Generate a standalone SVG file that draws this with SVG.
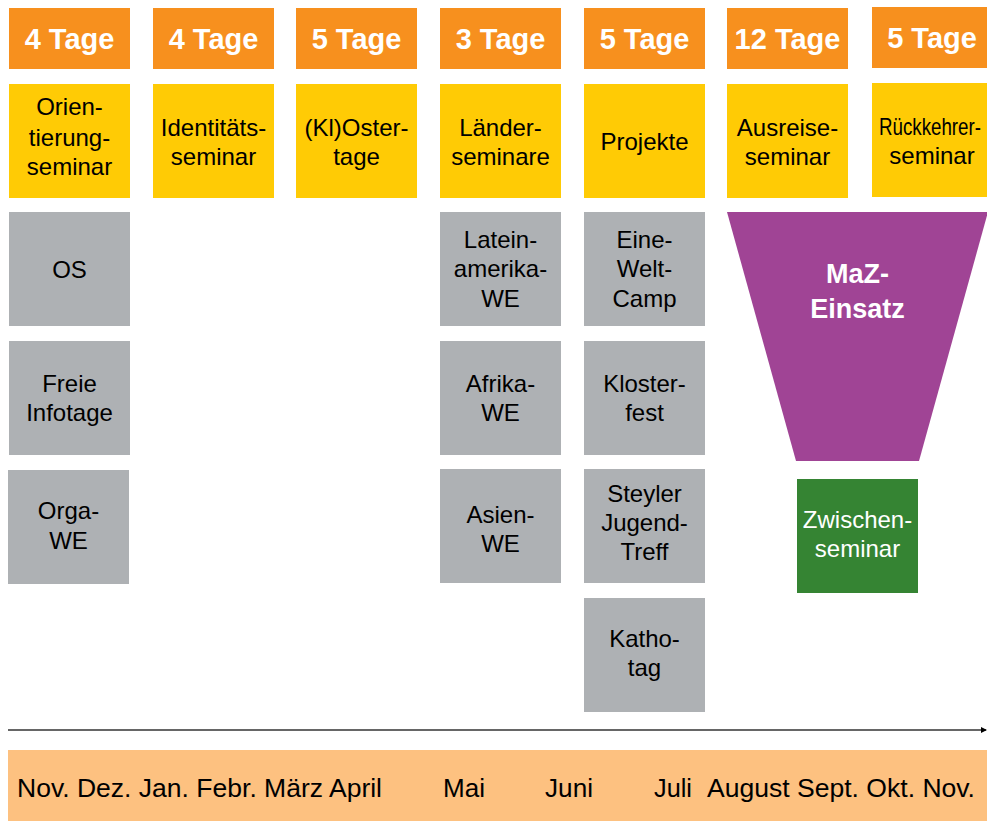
<svg xmlns="http://www.w3.org/2000/svg" width="987" height="821" viewBox="0 0 987 821">
<defs>
<style>
.hd{fill:#F7901E}
.ye{fill:#FFCB05}
.gr{fill:#AEB1B4}
.ht{font-family:"Liberation Sans",Arial,sans-serif;font-weight:bold;font-size:29px;fill:#fff;text-anchor:middle}
.t{font-family:"Liberation Sans",Arial,sans-serif;font-size:24px;fill:#000;text-anchor:middle}
.w{fill:#fff}
.m{font-family:"Liberation Sans",Arial,sans-serif;font-size:25px;fill:#000}
</style>
<marker id="arr" viewBox="0 0 6 6" refX="5" refY="3" markerWidth="6" markerHeight="6" markerUnits="userSpaceOnUse" orient="auto">
<path d="M0,0 L6,3 L0,6 z" fill="#000"/>
</marker>
</defs>
<rect width="987" height="821" fill="#fff"/>

<g id="h1"><rect class="hd" x="9" y="8" width="121" height="61"/><text class="ht" x="69.5" y="49">4 Tage</text></g>
<g id="h2"><rect class="hd" x="153" y="8" width="121" height="61"/><text class="ht" x="213.5" y="49">4 Tage</text></g>
<g id="h3"><rect class="hd" x="296" y="8" width="121" height="61"/><text class="ht" x="356.5" y="49">5 Tage</text></g>
<g id="h4"><rect class="hd" x="440" y="8" width="121" height="61"/><text class="ht" x="500.5" y="49">3 Tage</text></g>
<g id="h5"><rect class="hd" x="584" y="8" width="121" height="61"/><text class="ht" x="644.5" y="49">5 Tage</text></g>
<g id="h6"><rect class="hd" x="727" y="8" width="121" height="61"/><text class="ht" x="787.5" y="49">12 Tage</text></g>
<g id="h7"><rect class="hd" x="872" y="7" width="120" height="61"/><text class="ht" x="932" y="48">5 Tage</text></g>

<g id="y1"><rect class="ye" x="9" y="84" width="121" height="114"/><text class="t" x="69.5" y="115">Orien-</text><text class="t" x="69.5" y="146">tierung-</text><text class="t" x="69.5" y="175">seminar</text></g>
<g id="y2"><rect class="ye" x="153" y="84" width="121" height="114"/><text class="t" x="213.5" y="136">Identitäts-</text><text class="t" x="213.5" y="165">seminar</text></g>
<g id="y3"><rect class="ye" x="296" y="84" width="121" height="114"/><text class="t" x="356.5" y="136">(Kl)Oster-</text><text class="t" x="356.5" y="165">tage</text></g>
<g id="y4"><rect class="ye" x="440" y="84" width="121" height="114"/><text class="t" x="500.5" y="136">Länder-</text><text class="t" x="500.5" y="165">seminare</text></g>
<g id="y5"><rect class="ye" x="584" y="84" width="121" height="114"/><text class="t" x="644.5" y="150">Projekte</text></g>
<g id="y6"><rect class="ye" x="727" y="84" width="121" height="114"/><text class="t" x="787.5" y="136">Ausreise-</text><text class="t" x="787.5" y="165">seminar</text></g>
<g id="y7"><rect class="ye" x="872" y="83" width="120" height="114"/><text class="t" x="930" y="135" textLength="102" lengthAdjust="spacingAndGlyphs">Rückkehrer-</text><text class="t" x="932" y="164">seminar</text></g>

<g id="g_os"><rect class="gr" x="9" y="212" width="121" height="114"/><text class="t" x="69.5" y="278">OS</text></g>
<g id="g_freie"><rect class="gr" x="9" y="341" width="121" height="114"/><text class="t" x="69.5" y="392">Freie</text><text class="t" x="69.5" y="421">Infotage</text></g>
<g id="g_orga"><rect class="gr" x="8" y="470" width="121" height="114"/><text class="t" x="68.5" y="519">Orga-</text><text class="t" x="68.5" y="549">WE</text></g>

<g id="g_latein"><rect class="gr" x="440" y="212" width="121" height="114"/><text class="t" x="500.5" y="248">Latein-</text><text class="t" x="500.5" y="277">amerika-</text><text class="t" x="500.5" y="307">WE</text></g>
<g id="g_afrika"><rect class="gr" x="440" y="341" width="121" height="114"/><text class="t" x="500.5" y="392">Afrika-</text><text class="t" x="500.5" y="421">WE</text></g>
<g id="g_asien"><rect class="gr" x="440" y="469" width="121" height="114"/><text class="t" x="500.5" y="523">Asien-</text><text class="t" x="500.5" y="552">WE</text></g>

<g id="g_camp"><rect class="gr" x="584" y="212" width="121" height="114"/><text class="t" x="644.5" y="248">Eine-</text><text class="t" x="644.5" y="277">Welt-</text><text class="t" x="644.5" y="307">Camp</text></g>
<g id="g_kloster"><rect class="gr" x="584" y="341" width="121" height="114"/><text class="t" x="644.5" y="392">Kloster-</text><text class="t" x="644.5" y="421">fest</text></g>
<g id="g_steyler"><rect class="gr" x="584" y="469" width="121" height="114"/><text class="t" x="644.5" y="502">Steyler</text><text class="t" x="644.5" y="531">Jugend-</text><text class="t" x="644.5" y="560">Treff</text></g>
<g id="g_katho"><rect class="gr" x="584" y="598" width="121" height="114"/><text class="t" x="644.5" y="647">Katho-</text><text class="t" x="644.5" y="676">tag</text></g>

<g id="maz"><polygon points="727,212 988,212 919,461 796,461" fill="#A04495"/><text class="ht" x="857.5" y="283" style="font-size:27px">MaZ-</text><text class="ht" x="857.5" y="318" style="font-size:27px">Einsatz</text></g>
<g id="zwischen"><rect x="797" y="479" width="121" height="114" fill="#358433"/><text class="t w" x="857.5" y="528">Zwischen-</text><text class="t w" x="857.5" y="557">seminar</text></g>

<g id="connectors"><line x1="8" y1="730" x2="986" y2="730" stroke="#333" stroke-width="1.6" marker-end="url(#arr)"/></g>

<g id="timeline"><rect x="8" y="750" width="979" height="71" fill="#FDC180"/>
<text class="m" x="17" y="797" textLength="365" lengthAdjust="spacingAndGlyphs">Nov. Dez. Jan. Febr. März April</text>
<text class="m" x="443" y="797" textLength="42" lengthAdjust="spacingAndGlyphs">Mai</text>
<text class="m" x="545" y="797" textLength="48" lengthAdjust="spacingAndGlyphs">Juni</text>
<text class="m" x="654" y="797" textLength="38" lengthAdjust="spacingAndGlyphs">Juli</text>
<text class="m" x="707" y="797" textLength="268" lengthAdjust="spacingAndGlyphs">August Sept. Okt. Nov.</text>
</g>
</svg>
